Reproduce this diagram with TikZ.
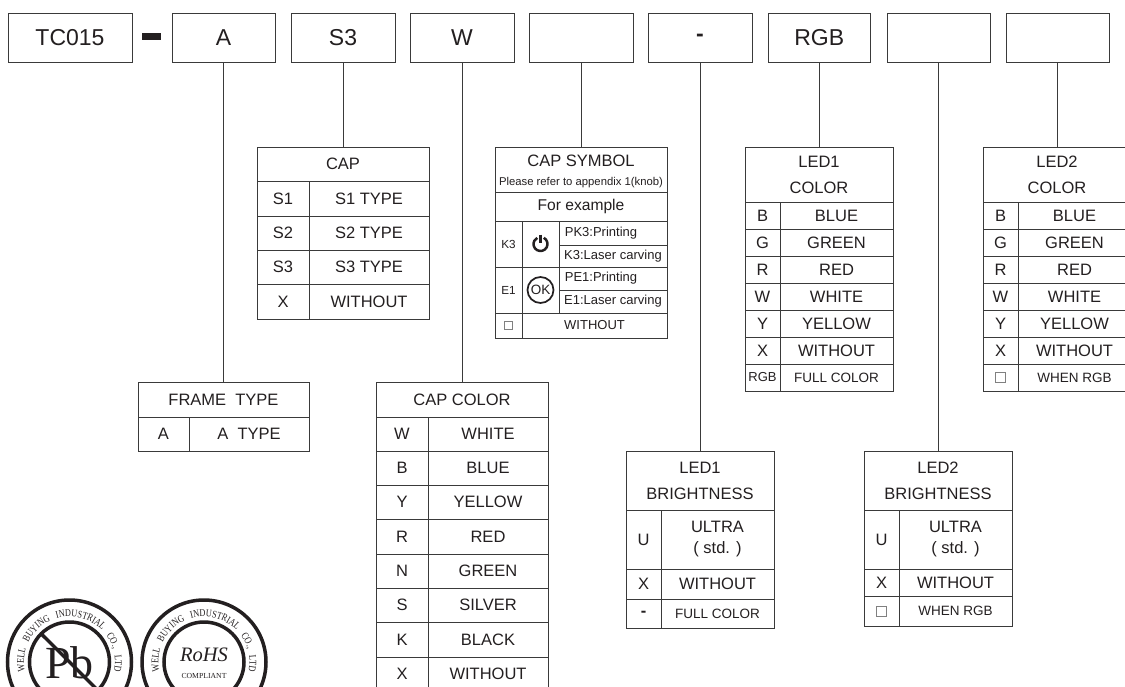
\documentclass[tikz,border=0pt]{standalone}
\usepackage{fontspec}
\setmainfont{Liberation Sans}
\newfontfamily\serifstamp{Liberation Serif}
\newfontfamily\serifnarrow[FakeStretch=0.8]{Liberation Serif}
\usetikzlibrary{decorations.text}
\definecolor{ink}{HTML}{231F20}
\definecolor{rule}{HTML}{3A3A3A}
\newcommand\fsTop{\fontsize{23}{26}\selectfont}
\newcommand\fsMain{\fontsize{16.5}{26}\selectfont}
\newcommand\fsSmall{\fontsize{13.5}{16}\selectfont}
\newcommand\fsNote{\fontsize{11.3}{13}\selectfont}
\newcommand\fsSym{\fontsize{13}{16}\selectfont}
\newcommand\tcell[6]{\node[cellbox,minimum width={(#4-#2)*1pt},minimum height={(#5-#3)*1pt}] (#1) at ({(#2+#4)/2},{(#3+#5)/2}) {#6};}
\newcommand\trow[8]{\tcell{#1l}{#2}{#5}{#3}{#6}{#7}\tcell{#1r}{#3}{#5}{#4}{#6}{#8}}
\tikzset{
  cellbox/.style={draw=rule,line width=1pt,inner sep=0pt,outer sep=0pt,text=ink,font=\fsMain,align=center},
  link/.style={draw=rule,line width=1pt},
  tick/.style={draw=gray,line width=0.7pt,fill=white,inner sep=0pt,outer sep=0pt,minimum size=#1},
  ring/.style={draw=ink,line width=3.5pt},
  stamptext/.style={text=ink,inner sep=0pt}
}
\begin{document}
\begin{tikzpicture}[x=1pt,y=-1pt]
\clip (0,0) rectangle (1125,686);
\fill[white] (0,0) rectangle (1125,686);
% top row
\tcell{tc}{8}{13}{132}{62}{\fsTop TC015}
\node[fill=ink,inner sep=0pt,minimum width=19pt,minimum height=6.5pt] (dash) at (151.5,36.5) {};
\tcell{bA}{172}{13}{275}{62}{\fsTop A}
\tcell{bS}{291}{13}{395}{62}{\fsTop S3}
\tcell{bW}{410}{13}{514}{62}{\fsTop W}
\tcell{bSym}{529}{13}{633}{62}{}
\tcell{bB1}{648}{13}{752}{62}{\fsTop\raisebox{-4pt}{\bfseries -}}
\tcell{bC1}{768}{13}{870.5}{62}{\fsTop RGB}
\tcell{bB2}{887}{13}{990}{62}{}
\tcell{bC2}{1006}{13}{1109}{62}{}
% frame
\tcell{frame}{138}{382}{309}{417}{FRAME\ \ TYPE}
\trow{fa}{138}{189}{309}{417}{451}{A}{A\ \ TYPE}
% cap
\tcell{cap}{257}{147}{429}{181}{CAP}
\trow{c1}{257}{309}{429}{181}{216}{S1}{S1 TYPE}
\trow{c2}{257}{309}{429}{216}{250}{S2}{S2 TYPE}
\trow{c3}{257}{309}{429}{250}{284}{S3}{S3 TYPE}
\trow{c4}{257}{309}{429}{284}{319}{X}{WITHOUT}
% cap color
\tcell{col}{376}{382}{548}{417}{CAP COLOR}
\trow{k1}{376}{428}{548}{417}{451}{W}{WHITE}
\trow{k2}{376}{428}{548}{451}{485}{B}{BLUE}
\trow{k3}{376}{428}{548}{485}{519}{Y}{YELLOW}
\trow{k4}{376}{428}{548}{519}{554}{R}{RED}
\trow{k5}{376}{428}{548}{554}{588}{N}{GREEN}
\trow{k6}{376}{428}{548}{588}{622}{S}{SILVER}
\trow{k7}{376}{428}{548}{622}{657}{K}{BLACK}
\trow{k8}{376}{428}{548}{657}{691}{X}{WITHOUT}
% cap symbol
\tcell{sym}{495}{147}{667}{192}{\fontsize{16.5}{18}\selectfont\rule{0pt}{16pt}CAP SYMBOL\\[-7pt]\fsNote Please refer to appendix 1(knob)}
\tcell{symex}{495}{192}{667}{221}{\fontsize{15.6}{18}\selectfont For example}
\tcell{sk}{495}{221}{522}{267}{\fontsize{11.7}{14}\selectfont K3}
\tcell{ski}{522}{221}{559}{267}{}
\tcell{sk1}{559}{221}{667}{245}{\fsSym PK3:Printing\hspace*{24pt}}
\tcell{sk2}{559}{245}{667}{267}{\fsSym K3:Laser carving}
\tcell{se}{495}{267}{522}{313}{\fontsize{11.7}{14}\selectfont E1}
\tcell{sei}{522}{267}{559}{313}{}
\tcell{se1}{559}{267}{667}{290}{\fsSym PE1:Printing\hspace*{24pt}}
\tcell{se2}{559}{290}{667}{313}{\fsSym E1:Laser carving}
\tcell{sn}{495}{313}{522}{338}{}
\tcell{snr}{522}{313}{667}{338}{\fsSym WITHOUT}
\node[tick=8pt] (snbox) at (sn.center) {};
\begin{scope}[y=1pt,shift={(ski.center)}]
  \draw[ink,line width=2.5pt] (62:7pt) arc[start angle=62,end angle=-242,radius=7pt];
  \draw[ink,line width=2.8pt] (0pt,9.5pt) -- (0pt,1pt);
\end{scope}
\node[circle,draw=ink,line width=1.7pt,inner sep=0pt,minimum size=26pt,text=ink,font=\fontsize{13.5}{14}\selectfont] (okicon) at (sei.center) {OK};
% led1 color
\tcell{l1}{745}{147}{893}{202}{LED1\\COLOR}
\trow{l1a}{745}{780}{893}{202}{229}{B}{BLUE}
\trow{l1b}{745}{780}{893}{229}{256}{G}{GREEN}
\trow{l1c}{745}{780}{893}{256}{283}{R}{RED}
\trow{l1d}{745}{780}{893}{283}{310}{W}{WHITE}
\trow{l1e}{745}{780}{893}{310}{337}{Y}{YELLOW}
\trow{l1f}{745}{780}{893}{337}{364}{X}{WITHOUT}
\trow{l1g}{745}{780}{893}{364}{391}{\fontsize{13}{16}\selectfont RGB}{\fsSmall FULL COLOR}
% led2 color
\tcell{l2}{983}{147}{1131}{202}{LED2\\COLOR}
\trow{l2a}{983}{1018}{1131}{202}{229}{B}{BLUE}
\trow{l2b}{983}{1018}{1131}{229}{256}{G}{GREEN}
\trow{l2c}{983}{1018}{1131}{256}{283}{R}{RED}
\trow{l2d}{983}{1018}{1131}{283}{310}{W}{WHITE}
\trow{l2e}{983}{1018}{1131}{310}{337}{Y}{YELLOW}
\trow{l2f}{983}{1018}{1131}{337}{364}{X}{WITHOUT}
\trow{l2g}{983}{1018}{1131}{364}{391}{}{\fsSmall WHEN RGB}
\node[tick=10pt] (l2box) at (l2gl.center) {};
% led1 brightness
\tcell{b1}{626}{451}{774}{510}{LED1\\BRIGHTNESS}
\trow{b1a}{626}{661}{774}{510}{569}{U}{ULTRA\\[-5pt]( std. )}
\trow{b1b}{626}{661}{774}{569}{599}{X}{WITHOUT}
\trow{b1c}{626}{661}{774}{599}{628}{\raisebox{-2pt}{\bfseries -}}{\fsSmall FULL COLOR}
% led2 brightness
\tcell{b2}{864}{451}{1012}{510}{LED2\\BRIGHTNESS}
\trow{b2a}{864}{899}{1012}{510}{569}{U}{ULTRA\\[-5pt]( std. )}
\trow{b2b}{864}{899}{1012}{569}{596}{X}{WITHOUT}
\trow{b2c}{864}{899}{1012}{596}{626}{}{\fsSmall WHEN RGB}
\node[tick=10pt] (b2box) at (b2cl.center) {};
% connectors
\draw[link] (bA.south) -- (bA.south |- frame.north);
\draw[link] (bS.south) -- (bS.south |- cap.north);
\draw[link] (bW.south) -- (bW.south |- col.north);
\draw[link] (bSym.south) -- (bSym.south |- sym.north);
\draw[link] (bB1.south) -- (bB1.south |- b1.north);
\draw[link] (bC1.south) -- (bC1.south |- l1.north);
\draw[link] (bB2.south) -- (bB2.south |- b2.north);
\draw[link] (bC2.south) -- (bC2.south |- l2.north);
% stamps
\coordinate (pbc) at (69.5,662);
\coordinate (roc) at (204,662);
\draw[ring] (pbc) circle[radius=62pt];
\draw[ring] (pbc) circle[radius=40pt];
\draw[ring] (roc) circle[radius=62pt];
\draw[ring] (roc) circle[radius=40pt];
\node[stamptext,font=\serifstamp\fontsize{46}{46}\selectfont,anchor=base] (pb) at (69.5,678) {Pb};
\coordinate (sa) at (41.2,633.8);
\coordinate (sb) at (97.8,690.2);
\draw[ink,line width=3.4pt] (sa) -- (sb);
\node[stamptext,font=\serifstamp\itshape\fontsize{20.5}{22}\selectfont,anchor=base] (rohs) at (204,661) {RoHS};
\node[stamptext,font=\serifstamp\fontsize{7.7}{9}\selectfont,anchor=base] (comp) at (204,678) {COMPLIANT};
\begin{scope}[y=1pt,shift={(pbc)}]
  \path[decorate,decoration={text along path,text align=fit to path stretching spaces,text={|\serifnarrow\fontsize{10.3}{13}\selectfont\color{ink}|WELL BUYING INDUSTRIAL CO., LTD}}]
    (192:45.5pt) arc[start angle=192,end angle=-12,radius=45.5pt];
\end{scope}
\begin{scope}[y=1pt,shift={(roc)}]
  \path[decorate,decoration={text along path,text align=fit to path stretching spaces,text={|\serifnarrow\fontsize{10.3}{13}\selectfont\color{ink}|WELL BUYING INDUSTRIAL CO., LTD}}]
    (192:45.5pt) arc[start angle=192,end angle=-12,radius=45.5pt];
\end{scope}
\end{tikzpicture}
\end{document}
